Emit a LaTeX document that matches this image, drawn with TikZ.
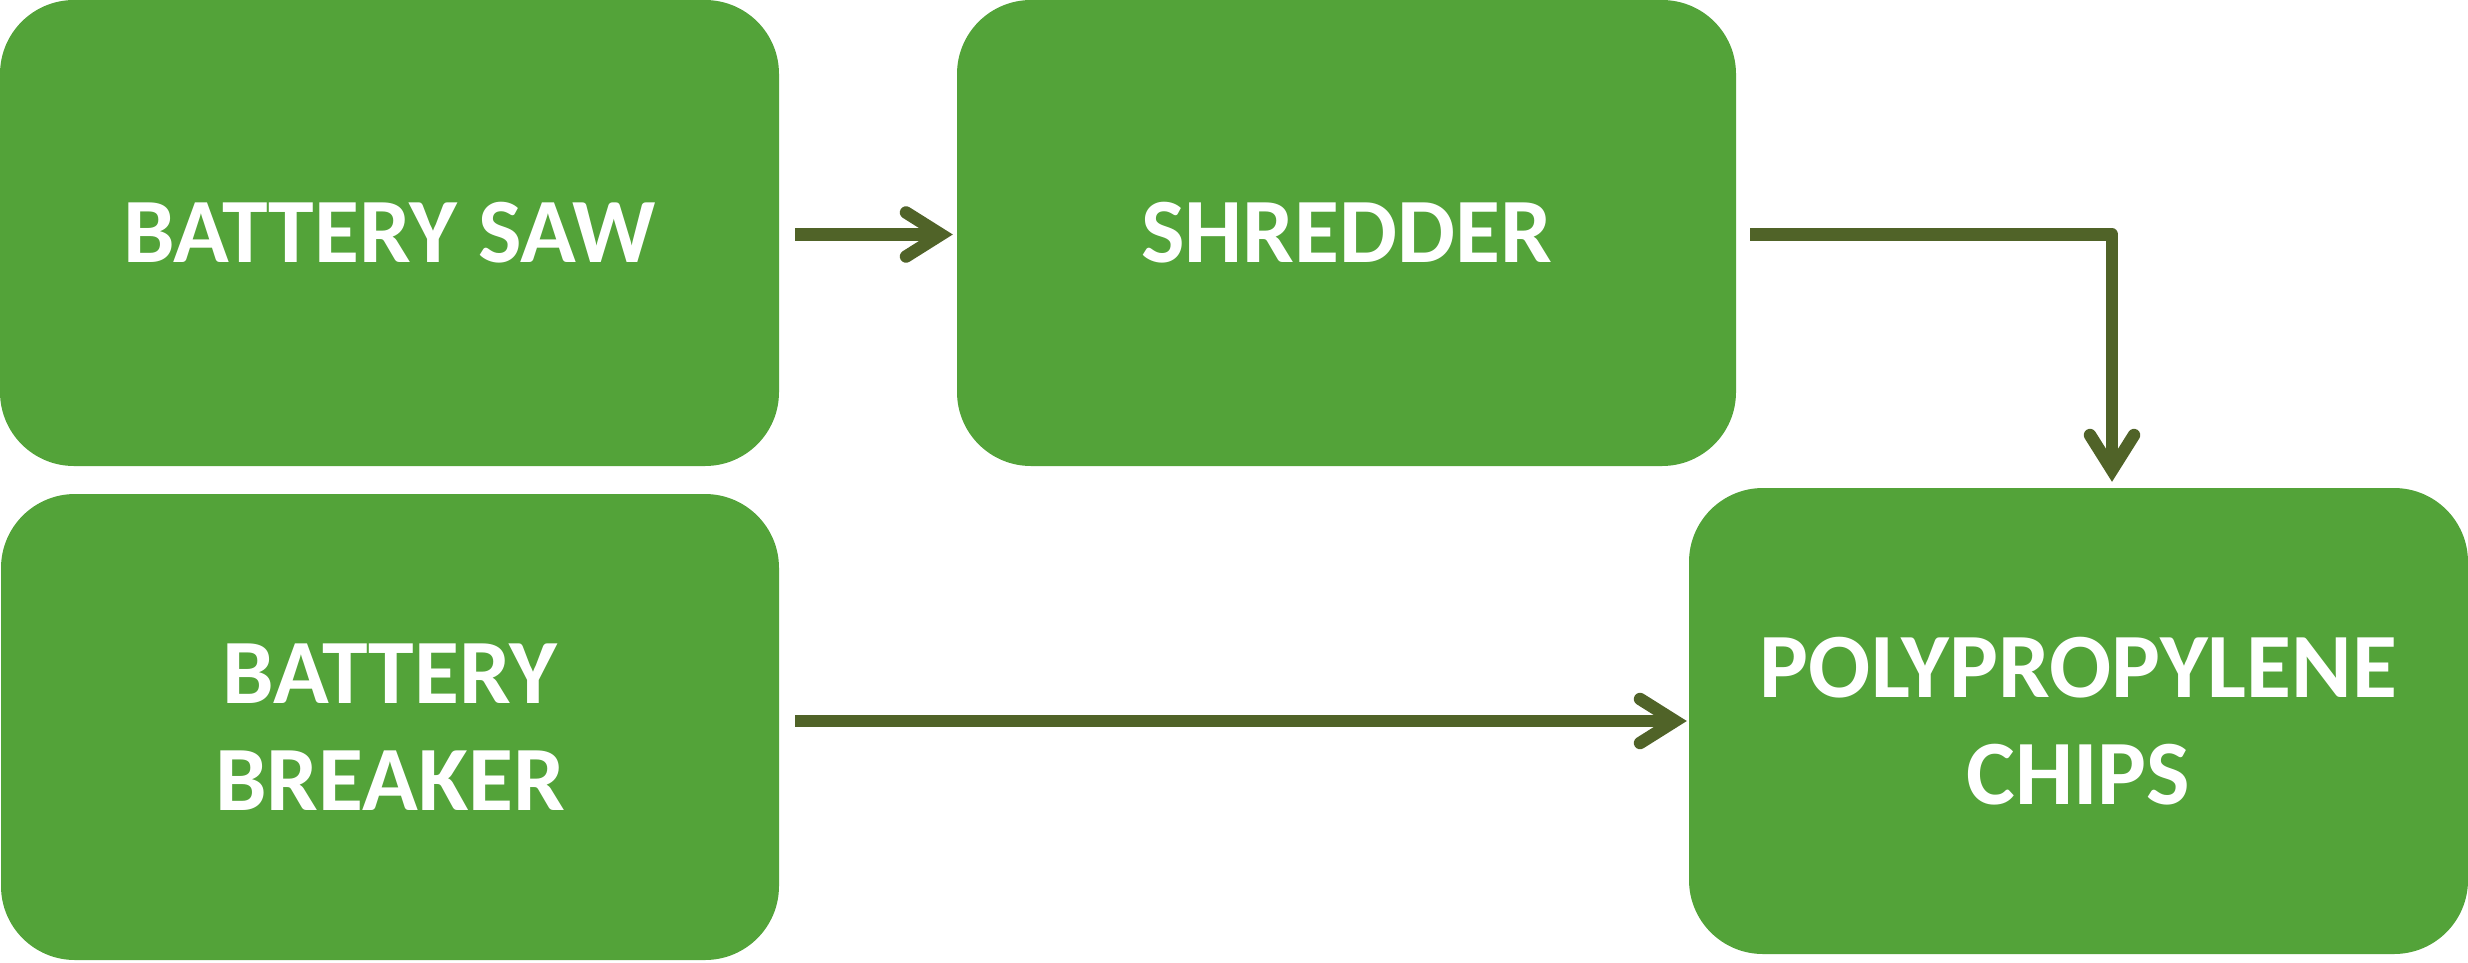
\documentclass[tikz,border=0pt]{standalone}
\usepackage{fontspec}
\setmainfont{Carlito}
\usetikzlibrary{arrows.meta}
\definecolor{boxgreen}{RGB}{83,163,57}
\definecolor{arrowolive}{RGB}{80,99,40}
\begin{document}
\begin{tikzpicture}[x=1pt,y=-1pt,
  box/.style={fill=boxgreen, draw=none, rounded corners=74pt, inner sep=0pt,
    text=white, font=\bfseries\fontsize{92}{107}\selectfont, align=center},
  flow/.style={draw=arrowolive, line width=12.5pt, line join=round,
    -{Straight Barb[length=35pt, width=44pt, line cap=round, line join=miter]},
    preaction={draw=black, draw opacity=0.2, transform canvas={shift={(2.5pt,-3pt)}}}}
]
\useasboundingbox (0,0) rectangle (2468,962);
\node[box, minimum width=779pt, minimum height=466pt] (saw) at (389.5,233) {BATTERY SAW};
\node[box, minimum width=779pt, minimum height=466pt] (shred) at (1346.5,233) {SHREDDER};
\node[box, minimum width=778pt, minimum height=466pt] (breaker) at (390,727) {BATTERY\\BREAKER};
\node[box, minimum width=779pt, minimum height=466pt] (pp) at (2078.5,721) {POLYPROPYLENE\\CHIPS};
\draw[flow] ([xshift=16pt,yshift=-1.5pt]saw.east) -- ([xshift=-4pt,yshift=-1.5pt]shred.west);
\draw[flow] ([xshift=14pt,yshift=-1.5pt]shred.east) -| ([xshift=33.5pt,yshift=6pt]pp.north);
\draw[flow] ([xshift=16pt]breaker.east |- pp.west) -- ([xshift=-2pt]pp.west);
\end{tikzpicture}
\end{document}
